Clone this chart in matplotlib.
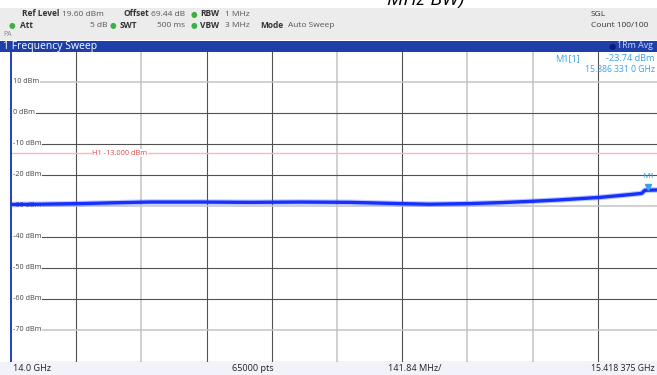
import matplotlib
matplotlib.use("Agg")
import matplotlib.pyplot as plt
from matplotlib.patches import Rectangle

plt.rcParams['font.family'] = ['Open Sans', 'DejaVu Sans']

# ---------------- data ----------------
f_start = 14.0          # GHz
f_stop = 15.418375      # GHz
y_top = 19.6            # dBm (ref level)
y_bottom = -80.4        # dBm
grid_db = [10, 0, -10, -20, -30, -40, -50, -60, -70]
grid_db_labels = ["10 dBm", "0 dBm", "-10 dBm", "-20 dBm", "-30 dBm", "-40 dBm",
                  "-50 dBm", "-60 dBm", "-70 dBm"]
trace_freq = [14.000, 14.063, 14.150, 14.237, 14.302, 14.411, 14.520, 14.629, 14.737,
              14.846, 14.911, 14.998, 15.063, 15.128, 15.194, 15.281, 15.346, 15.372,
              15.379, 15.405, 15.418]
trace_dbm = [-29.6, -29.5, -29.3, -29.0, -28.8, -28.8, -28.9, -28.8, -28.9,
             -29.3, -29.5, -29.3, -29.0, -28.6, -28.1, -27.3, -26.4, -26.0,
             -25.0, -24.9, -24.9]
h1_level = -13.0
m1_freq = 15.386331
m1_dbm = -23.74

W, H = 657, 375
fig = plt.figure(figsize=(W / 100, H / 100), dpi=100)

def fx(x):
    return x / W

def fy(y):
    return 1 - y / H

# title fragment at very top (cut off in the original screenshot)
fig.text(fx(387), fy(5), "MHz BW)", fontsize=14, style='italic', color='black',
         ha='left', va='baseline')

# header gray band
fig.patches.append(Rectangle((0, fy(40)), 1, fy(8) - fy(40), transform=fig.transFigure,
                             facecolor='#ececec', edgecolor='none', zorder=0))
# blue title bar
fig.patches.append(Rectangle((0, fy(51.5)), 1, fy(41) - fy(51.5), transform=fig.transFigure,
                             facecolor='#1f3fa8', edgecolor='none', zorder=1))
# bottom row
fig.patches.append(Rectangle((0, 0), 1, fy(362), transform=fig.transFigure,
                             facecolor='#f2f2fa', edgecolor='none', zorder=0))

hs = 6.0
def ht(x, y, s, bold=False, color='#333333', ha='left', size=hs):
    fig.text(fx(x), fy(y), s, fontsize=size, fontweight='bold' if bold else 'normal',
             color=color, ha=ha, va='center')

def dot(x, y):
    fig.text(fx(x), fy(y), "●", fontsize=5.5, color='#3cb043', ha='center', va='center',
             family='DejaVu Sans')

ht(22, 14, "Ref Level", bold=True)
ht(62, 14, "19.60 dBm", color='#555555')
ht(123, 14, "Offset", bold=True)
ht(151, 14, "69.44 dB", color='#555555')
dot(194, 14)
ht(200, 14, "RBW", bold=True)
ht(225, 14, "1 MHz", color='#555555')

dot(12, 25.5)
ht(20, 25.5, "Att", bold=True)
ht(107, 25.5, "5 dB", color='#555555', ha='right')
dot(113, 25.5)
ht(120, 25.5, "SWT", bold=True)
ht(185, 25.5, "500 ms", color='#555555', ha='right')
dot(194, 25.5)
ht(200, 25.5, "VBW", bold=True)
ht(225, 25.5, "3 MHz", color='#555555')
ht(260, 25.5, "Mode", bold=True)
ht(288, 25.5, "Auto Sweep", color='#555555')
ht(3, 35, "PA", color='#888888', size=5)

ht(591, 14, "SGL")
ht(591, 25.5, "Count 100/100")

ht(3, 46, "1 Frequency Sweep", color='white', size=7.5)
fig.text(fx(612), fy(46.5), "●", fontsize=6, color='#0a1a80', ha='center', va='center',
         family='DejaVu Sans')
ht(617, 46, "1Rm Avg", color='#c8d4ff', size=6.4)

# bottom row labels
bs = 6.6
ht(13, 368.5, "14.0 GHz", color='#222222', size=bs)
ht(232, 368.5, "65000 pts", color='#222222', size=bs)
ht(388, 368.5, "141.84 MHz/", color='#222222', size=bs)
ht(655, 368.5, "15.418 375 GHz", color='#222222', size=6.3, ha='right')

# ---------------- plot area ----------------
left_px, right_px, top_px, bot_px = 11, 663, 52, 362
ax = fig.add_axes([fx(left_px), fy(bot_px), fx(right_px) - fx(left_px), fy(top_px) - fy(bot_px)])
ax.set_xlim(f_start, f_stop)
ax.set_ylim(y_bottom, y_top)
ax.set_xticks([])
ax.set_yticks([])
for s in ['top', 'right']:
    ax.spines[s].set_visible(False)
ax.spines['left'].set_color('#2040c0')
ax.spines['left'].set_linewidth(1.4)
ax.spines['bottom'].set_color('#333333')
ax.spines['bottom'].set_linewidth(0.8)

div = (f_stop - f_start) / 10
vstyle = ['d', 'l', 'd', 'd', 'l', 'd', 'l', 'l', 'd']
for k in range(1, 10):
    st = vstyle[k - 1]
    ax.axvline(f_start + k * div, color='#505050' if st == 'd' else '#c4c4c4',
               lw=0.8 if st == 'd' else 1.1, zorder=1)
hstyle = ['l', 'd', 'd', 'd', 'l', 'd', 'd', 'd', 'l']
for v, lab, st in zip(grid_db, grid_db_labels, hstyle):
    ax.axhline(v, color='#505050' if st == 'd' else '#c4c4c4',
               lw=0.8 if st == 'd' else 1.1, zorder=1)
    ax.text(f_start + div * 0.03, v, lab, fontsize=5.2, color='#444444', ha='left',
            va='center', zorder=3,
            bbox=dict(facecolor='white', edgecolor='none', pad=0.6))

# H1 line
ax.axhline(h1_level, color='#f6b8b8', lw=1.0, zorder=2)
ax.text(f_start + div * 1.25, h1_level, "H1 -13.000 dBm", fontsize=5.3, color='#e04848',
        ha='left', va='center', zorder=3,
        bbox=dict(facecolor='white', edgecolor='none', pad=0.4))

# trace (with a soft underlay for the noise band)
ax.plot(trace_freq, trace_dbm, color='#4060ff', lw=4.0, alpha=0.35, zorder=4)
ax.plot(trace_freq, trace_dbm, color='#1530ff', lw=2.4, zorder=4, solid_joinstyle='round')

# marker
mcol = '#3aa0e6'
ax.plot([m1_freq], [m1_dbm - 0.3], marker='v', color=mcol, markersize=4, zorder=5)
ax.text(m1_freq, m1_dbm + 2.2, "M1", fontsize=6, color=mcol, ha='center', va='bottom', zorder=5)

# marker table
ht(555, 58.5, "M1[1]", color=mcol, size=6.6)
ht(655, 58.5, "-23.74 dBm", color=mcol, size=6.6, ha='right')
ht(655, 70, "15.386 331 0 GHz", color=mcol, size=6.2, ha='right')

fig.savefig("out.png", dpi=100)
